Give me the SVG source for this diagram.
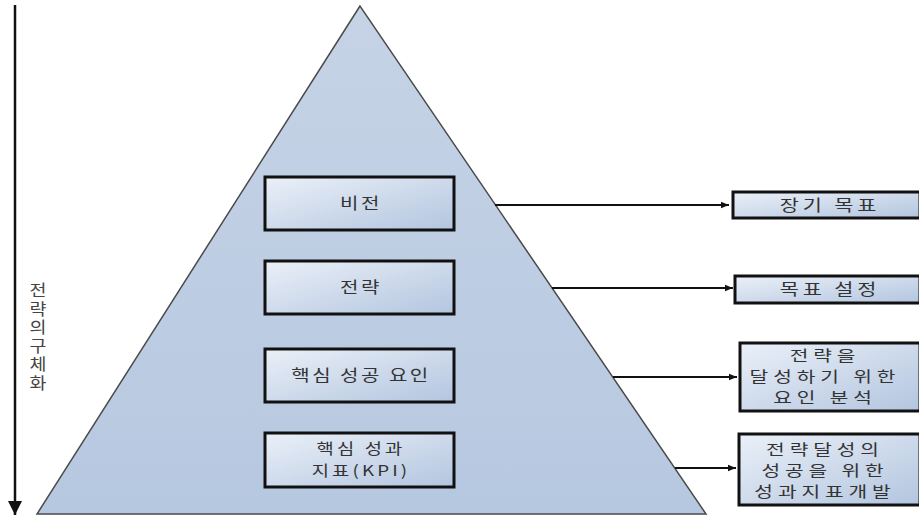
<svg xmlns="http://www.w3.org/2000/svg" width="919" height="517" viewBox="0 0 919 517">
<defs>
<linearGradient id="boxg" x1="0" y1="0" x2="1" y2="1">
<stop offset="0" stop-color="#eaf0f8"/>
<stop offset="1" stop-color="#b3c5df"/>
</linearGradient>
<linearGradient id="trig" x1="0" y1="0" x2="0" y2="1">
<stop offset="0" stop-color="#c6d3e6"/>
<stop offset="1" stop-color="#b6c8e0"/>
</linearGradient>
<marker id="ah" viewBox="0 0 10 10" refX="10" refY="5" markerWidth="8" markerHeight="8" markerUnits="userSpaceOnUse" orient="auto">
<path d="M0,1 L10,5 L0,9 Z" fill="#111"/>
</marker>
<marker id="ahv" viewBox="0 0 10 10" refX="10" refY="5" markerWidth="14" markerHeight="14" markerUnits="userSpaceOnUse" orient="auto">
<path d="M0,0 L10,5 L0,10 Z" fill="#111"/>
</marker>
</defs>
<style>
.box{fill:url(#boxg);stroke:#111;stroke-width:3}
.t{font-family:"Noto Sans CJK KR","Noto Sans",sans-serif;font-size:16px;fill:#333;text-anchor:middle;letter-spacing:2px}
.tk{font-family:"Noto Sans CJK KR","Noto Sans",sans-serif;font-size:15px;fill:#333;text-anchor:middle;letter-spacing:2.5px}
.r{font-family:"Noto Sans CJK KR","Noto Sans",sans-serif;font-size:16px;fill:#333;text-anchor:middle;letter-spacing:3px}
.r2{font-family:"Noto Sans CJK KR","Noto Sans",sans-serif;font-size:14.5px;fill:#333;text-anchor:middle;letter-spacing:3.5px}
.v{font-family:"Noto Sans CJK KR","Noto Sans",sans-serif;font-size:16px;fill:#444;writing-mode:vertical-rl;letter-spacing:2.5px}
.c{stroke:#111;stroke-width:2;fill:none}
</style>
<rect width="919" height="517" fill="#ffffff"/>
<g id="pyramid">
<polygon points="360,6 37,514 706,514" fill="url(#trig)" stroke="#4a4a4a" stroke-width="1.5"/>
</g>
<g id="axis">
<line x1="15" y1="5" x2="15" y2="515" stroke="#111" stroke-width="2.5" marker-end="url(#ahv)"/>
<g transform="translate(38,0) scale(1.15,1)">
<text class="v" x="0" y="282">전략의구체화</text>
</g>
</g>
<g id="connectors">
<line class="c" x1="495" y1="205" x2="729" y2="205" marker-end="url(#ah)"/>
<line class="c" x1="552" y1="288" x2="733" y2="288" marker-end="url(#ah)"/>
<line class="c" x1="613" y1="377" x2="737" y2="377" marker-end="url(#ah)"/>
<line class="c" x1="675" y1="468" x2="736" y2="468" marker-end="url(#ah)"/>
</g>
<g id="n-vision">
<rect class="box" x="265" y="177" width="189" height="53"/>
<g transform="translate(361,0) scale(1.25,1)"><text class="t" x="0" y="209">비전</text></g>
</g>
<g id="n-strategy">
<rect class="box" x="265" y="261" width="189" height="53"/>
<g transform="translate(361,0) scale(1.25,1)"><text class="t" x="0" y="293">전략</text></g>
</g>
<g id="n-csf">
<rect class="box" x="265" y="349" width="189" height="53"/>
<g transform="translate(361,0) scale(1.25,1)"><text class="t" x="0" y="381">핵심 성공 요인</text></g>
</g>
<g id="n-kpi">
<rect class="box" x="265" y="433" width="189" height="54"/>
<g transform="translate(361,0) scale(1.25,1)">
<text class="tk" x="0" y="454">핵심 성과</text>
<text class="tk" x="0" y="476">지표(KPI)</text>
</g>
</g>
<g id="r-vision">
<rect class="box" x="733" y="192" width="187" height="26"/>
<g transform="translate(830,0) scale(1.3,1)"><text class="r" x="0" y="211">장기 목표</text></g>
</g>
<g id="r-strategy">
<rect class="box" x="735" y="276" width="185" height="27"/>
<g transform="translate(830,0) scale(1.3,1)"><text class="r" x="0" y="295">목표 설정</text></g>
</g>
<g id="r-csf">
<rect class="box" x="740" y="343" width="180" height="68"/>
<g transform="translate(825,0) scale(1.4,1)">
<text class="r2" x="0" y="361">전략을</text>
<text class="r2" x="0" y="382">달성하기 위한</text>
<text class="r2" x="0" y="403">요인 분석</text>
</g>
</g>
<g id="r-kpi">
<rect class="box" x="739" y="434" width="181" height="71"/>
<g transform="translate(825,0) scale(1.4,1)">
<text class="r2" x="0" y="455">전략달성의</text>
<text class="r2" x="0" y="476">성공을 위한</text>
<text class="r2" x="0" y="497">성과지표개발</text>
</g>
</g>
</svg>
